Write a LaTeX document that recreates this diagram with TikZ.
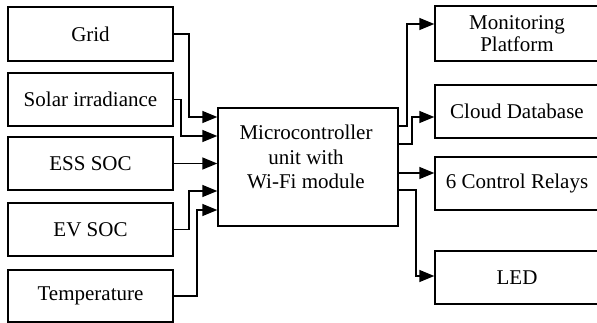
\documentclass[tikz,border=0pt]{standalone}
\usepackage{fontspec}
\setmainfont{Liberation Serif}
\usetikzlibrary{arrows.meta}
\begin{document}
\begin{tikzpicture}[x=1pt,y=-1pt,
 box/.style={draw, line width=1.4pt, minimum width=165pt, minimum height=53pt, inner sep=0pt, font=\fontsize{21}{22}\selectfont, align=center},
 rbox/.style={box, minimum width=164pt},
 arr/.style={line width=1.4pt, -{Triangle[length=15pt,width=12pt]}}]
\useasboundingbox (0,0) rectangle (597,323);
\clip (0,0) rectangle (597,323);
% left boxes
\node[box, minimum height=54pt] (grid) at (90.5,34) {Grid};
\node[box] (solar) at (90.5,99.5) {Solar irradiance};
\node[box] (ess) at (90.5,163.5) {ESS SOC};
\node[box] (ev) at (90.5,229.5) {EV SOC};
\node[box, minimum height=52pt] (temp) at (90.5,296) {Temperature};
% central
\node[draw, line width=1.4pt, minimum width=180pt, minimum height=118pt, inner sep=0pt] (mcu) at (308,167) {};
\node[inner sep=0pt, align=center, font=\fontsize{21}{24.5}\selectfont] (mcutext) at (306,157) {Microcontroller\\unit with\\Wi-Fi module};
% right boxes
\node[rbox, minimum height=55pt] (mon) at (517,33.5) {Monitoring\\Platform};
\node[rbox] (cloud) at (517,111.5) {Cloud Database};
\node[rbox] (relay) at (517,183.5) {6 Control Relays};
\node[rbox] (led) at (517,277.5) {LED};
% left connectors
\draw[arr] (grid.east) -- (189,34) |- (mcu.west |- 0,117);
\draw[arr] (solar.east) -- (181,99.5) |- (mcu.west |- 0,136);
\draw[arr] (ess.east) -- (mcu.west |- ess.east);
\draw[arr] (ev.east) -- (189,229.5) |- (mcu.west |- 0,191);
\draw[arr] (temp.east) -- (197,296) |- (mcu.west |- 0,210);
% right connectors
\draw[arr] (mcu.east |- 0,126) -| (407,24) -- (mon.west |- 0,24);
\draw[arr] (mcu.east |- 0,144) -| (412,117) -- (cloud.west |- 0,117);
\draw[arr] (mcu.east |- 0,173) -- (relay.west |- 0,173);
\draw[arr] (mcu.east |- 0,190) -| (416,276) -- (led.west |- 0,276);
\end{tikzpicture}
\end{document}
